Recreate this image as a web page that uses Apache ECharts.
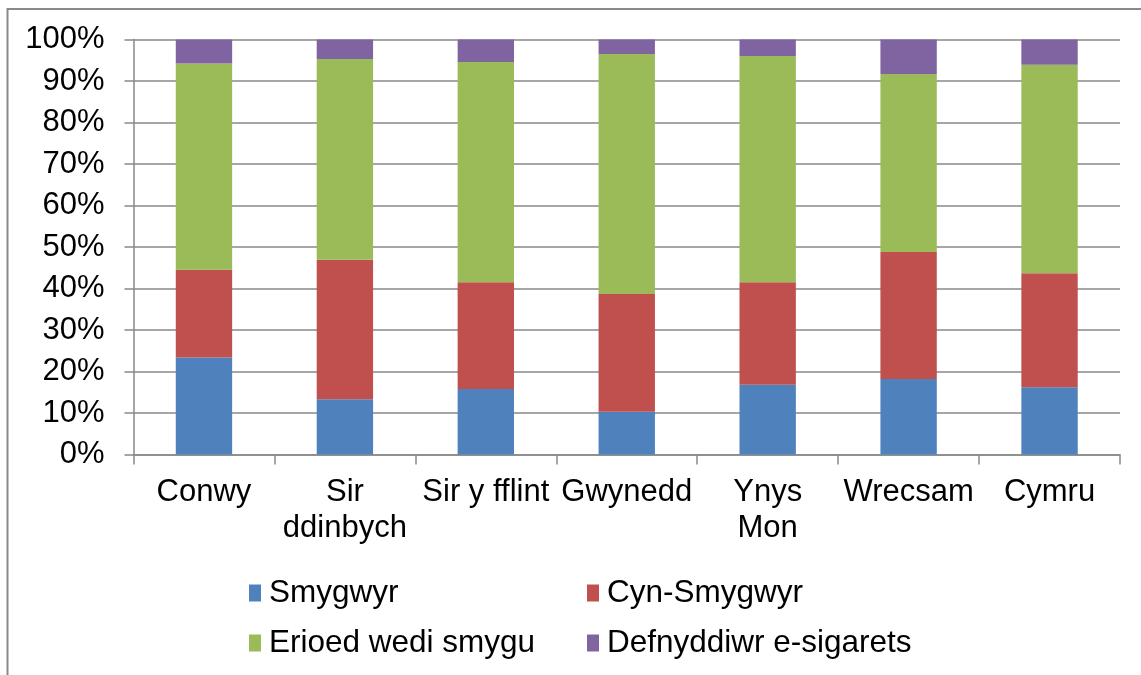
<!DOCTYPE html>
<html>
<head>
<meta charset="utf-8">
<script src="https://cdn.jsdelivr.net/npm/echarts@6/dist/echarts.min.js"></script>
<style>
  html, body { margin: 0; padding: 0; background: #fff; }
  #chart { width: 1141px; height: 675px; }
</style>
</head>
<body>
<div id="chart"></div>
<script>
const categories = ["Conwy", "Sir\nddinbych", "Sir y fflint", "Gwynedd", "Ynys\nMon", "Wrecsam", "Cymru"];
const smygwyr = [23.4, 13.3, 15.8, 10.3, 16.8, 18.2, 16.2];
const cynSmygwyr = [21.1, 33.6, 25.7, 28.4, 24.7, 30.6, 27.5];
const erioed = [49.7, 48.4, 53.1, 57.8, 54.5, 42.9, 50.2];
const eSigarets = [5.8, 4.7, 5.4, 3.5, 4.0, 8.3, 6.1];
const yTicks = [0, 10, 20, 30, 40, 50, 60, 70, 80, 90, 100];

const font = "Liberation Sans, Arial, sans-serif";
const gridGrey = "#898989";

const myChart = echarts.init(document.getElementById("chart"));

// pedair cyfres wedi'u pentyrru
function bar(name, data, color) {
  return {
    name: name,
    type: "bar",
    stack: "cyfanswm",
    barWidth: "40%",
    data: data,
    itemStyle: { color: color },
    animation: false
  };
}

const legendText = {
  fontFamily: font,
  fontSize: 31.5,
  color: "#000",
  lineHeight: 32,
  padding: [0, 0, 0, 3]
};

const option = {
  backgroundColor: "#fff",
  graphic: [
    {
      type: "rect",
      shape: { x: 7.5, y: 9, width: 1300, height: 900 },
      style: { fill: "none", stroke: gridGrey, lineWidth: 2 },
      silent: true
    }
  ],
  grid: {
    left: 133.5,
    right: 21,
    top: 39.5,
    bottom: 220.5,
    containLabel: false
  },
  legend: [
    {
      orient: "vertical",
      left: 244,
      top: 572,
      itemWidth: 12,
      itemHeight: 17,
      itemGap: 18,
      icon: "rect",
      data: ["Smygwyr", "Erioed wedi smygu"],
      textStyle: legendText
    },
    {
      orient: "vertical",
      left: 582,
      top: 572,
      itemWidth: 12,
      itemHeight: 17,
      itemGap: 18,
      icon: "rect",
      data: ["Cyn-Smygwyr", "Defnyddiwr e-sigarets"],
      textStyle: legendText
    }
  ],
  xAxis: {
    type: "category",
    data: categories,
    axisLine: { lineStyle: { color: gridGrey, width: 1.5 } },
    axisTick: { show: true, length: 10, lineStyle: { color: gridGrey, width: 1.5 } },
    axisLabel: {
      interval: 0,
      margin: 20,
      fontFamily: font,
      fontSize: 31,
      lineHeight: 36,
      color: "#000"
    }
  },
  yAxis: {
    type: "value",
    min: yTicks[0],
    max: yTicks[yTicks.length - 1],
    interval: 10,
    axisLine: { show: true, lineStyle: { color: gridGrey, width: 1.5 } },
    axisTick: { show: true, length: 9, lineStyle: { color: gridGrey, width: 1.5 } },
    splitLine: { show: true, lineStyle: { color: gridGrey, width: 1.5 } },
    axisLabel: {
      margin: 29,
      fontFamily: font,
      fontSize: 31,
      color: "#000",
      formatter: "{value}%"
    }
  },
  series: [
    bar("Smygwyr", smygwyr, "#4F81BD"),
    bar("Cyn-Smygwyr", cynSmygwyr, "#C0504D"),
    bar("Erioed wedi smygu", erioed, "#9BBB59"),
    bar("Defnyddiwr e-sigarets", eSigarets, "#8064A2")
  ]
};
myChart.setOption(option);
</script>
</body>
</html>
